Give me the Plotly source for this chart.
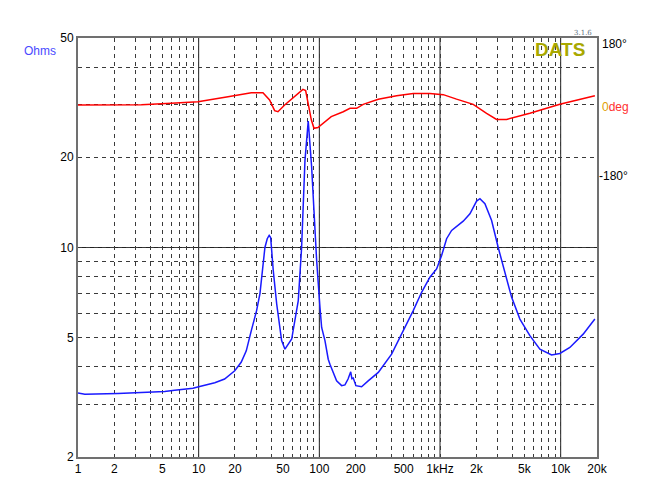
import plotly.graph_objects as go
import numpy as np

# ---------------- data ----------------
imp_freq = [1, 1.14, 2.14, 3.14, 5.23, 6.33, 8.97, 10, 13.6, 16.4, 19.9, 22.5, 24.8, 27.3,
            30.2, 32.2, 33.9, 35.4, 37.0, 38.4, 39.5, 41.5, 44.3, 48.7, 51.9, 59.0, 66.9, 71.3,
            76.0, 80.9, 86.3, 95.0, 101.2, 104.5, 111.3, 118.5, 122.4, 139, 153, 163, 173,
            182, 186, 191, 201, 224,
            254, 308, 397, 481, 600, 704, 825, 937, 1031, 1134, 1248, 1557, 1770, 2010,
            2142, 2356, 2677, 3036, 3450, 3918, 4592, 5556, 6724, 8407, 9843, 11916, 15360,
            19200]
imp_ohms = [3.27, 3.24, 3.26, 3.28, 3.31, 3.34, 3.39, 3.43, 3.54, 3.64, 3.88, 4.14, 4.52, 5.28,
            6.16, 7.02, 8.38, 10.0, 10.7, 10.97, 10.8, 8.38, 6.49, 4.89, 4.58, 4.95, 6.65, 10.0,
            19.5, 26.4, 18.6, 9.05, 6.32, 5.41, 4.89, 4.24, 4.08, 3.59, 3.46, 3.48, 3.64,
            3.85, 3.65, 3.67, 3.46, 3.43,
            3.59, 3.83, 4.41, 5.14, 6.16, 7.09, 7.96, 8.48, 9.40, 10.7, 11.4, 12.24, 12.96, 14.28,
            14.55, 14.0, 12.31, 10.0, 8.17, 6.83, 5.77, 5.08, 4.58, 4.38, 4.43, 4.64, 5.14,
            5.77]

ph_freq = [1, 3.35, 5.93, 9.87, 17.5, 27.3, 34.1, 38.7, 42.6, 45.4, 51.6, 62.4, 73.1, 77.0,
           80.5, 85.8, 90.3, 97.3, 125.5, 142.6, 157.8, 179.4, 203.7, 231, 308, 437, 600,
           825, 1064, 1371, 1884, 2432, 2943, 3563, 5556, 9843, 19200]
ph_deg = [-2.5, -1.6, 1.7, 5.7, 18, 28, 28, 10, -16.5, -19, -2.5, 18, 36, 33,
          1.7, -39, -60, -58, -31, -25, -19, -10.6, -10.6, -0.8, 11.5, 20.5, 26,
          26, 23, 12, -0.8, -23, -38, -38, -23, -0.8, 20.5]

x_tickvals = [1, 2, 5, 10, 20, 50, 100, 200, 500, 1000, 2000, 5000, 10000, 20000]
x_ticktext = ["1", "2", "5", "10", "20", "50", "100", "200", "500", "1kHz", "2k", "5k", "10k", "20k"]
x_minor = [m * d for d in [1, 10, 100, 1000] for m in [3, 4, 6, 7, 8, 9]] + [30000]
x_decades = [10, 100, 1000, 10000]
y_tickvals = [2, 5, 10, 20, 50]
y_ticktext = ["2", "5", "10", "20", "50"]
y_minor = [3, 4, 6, 7, 8, 9, 30, 40]

GRID = "#3a3a3a"
DASH = "4px,4px"
FONT = "Liberation Sans, Arial, sans-serif"

fig = go.Figure()
fig.add_trace(go.Scatter(x=imp_freq, y=imp_ohms, mode="lines",
                         line=dict(color="#1a1aff", width=1.5), yaxis="y", showlegend=False))
fig.add_trace(go.Scatter(x=ph_freq, y=ph_deg, mode="lines",
                         line=dict(color="#ff0000", width=1.5), yaxis="y2", showlegend=False))

shapes = []
for d in x_decades:
    shapes.append(dict(type="line", xref="x", yref="paper", x0=d, x1=d, y0=0, y1=1,
                       line=dict(color="#222222", width=1), layer="between"))
shapes.append(dict(type="line", xref="paper", yref="y", x0=0, x1=1, y0=10, y1=10,
                   line=dict(color="#222222", width=1), layer="between"))

fig.update_layout(
    width=649, height=488,
    margin=dict(l=78, r=52, t=38, b=31),
    paper_bgcolor="white", plot_bgcolor="white",
    font=dict(family=FONT, size=12, color="black"),
    xaxis=dict(type="log", range=[0, np.log10(20000)],
               tickvals=x_tickvals, ticktext=x_ticktext, ticks="",
               showgrid=True, gridcolor=GRID, griddash=DASH, gridwidth=1,
               minor=dict(tickvals=x_minor, showgrid=True, gridcolor=GRID,
                          griddash=DASH, gridwidth=1, ticks=""),
               showline=True, mirror=True, linecolor="#707070", linewidth=2,
               zeroline=False, tickfont=dict(size=12, family=FONT)),
    yaxis=dict(type="log", range=[np.log10(2), np.log10(50)],
               tickvals=y_tickvals, ticktext=y_ticktext, ticks="",
               showgrid=True, gridcolor=GRID, griddash=DASH, gridwidth=1,
               minor=dict(tickvals=y_minor, showgrid=True, gridcolor=GRID,
                          griddash=DASH, gridwidth=1, ticks=""),
               showline=True, mirror=True, linecolor="#707070", linewidth=2,
               zeroline=False, tickfont=dict(size=12, family=FONT)),
    yaxis2=dict(overlaying="y", side="right", range=[-870.3, 162.7],
                showgrid=False, showticklabels=False, zeroline=False, showline=False),
    shapes=shapes,
)

def pax(px):
    return (px - 78) / 519.0

def pay(py):
    return (457 - py) / 419.0

ann = [
    dict(text="Ohms", x=pax(40), y=pay(51), xanchor="center", yanchor="middle",
         font=dict(color="#4a4aff", size=12, family=FONT)),
    dict(text="<b>DATS</b>", x=pax(560), y=pay(49), xanchor="center", yanchor="middle",
         font=dict(color="#a8a800", size=19, family=FONT)),
    dict(text="3.1.6", x=pax(583), y=pay(33), xanchor="center", yanchor="middle",
         font=dict(color="#607080", size=7, family="DejaVu Serif")),
    dict(text="180°", x=pax(600), y=pay(44), xanchor="left", yanchor="middle",
         font=dict(color="black", size=12, family=FONT)),
    dict(text="<span style='color:#e0a000'>0</span><span style='color:#ff3030'>deg</span>",
         x=pax(600), y=pay(106.5), xanchor="left", yanchor="middle",
         font=dict(size=12, family=FONT)),
    dict(text="-180°", x=pax(597), y=pay(176), xanchor="left", yanchor="middle",
         font=dict(color="black", size=12, family=FONT)),
]
for a in ann:
    a.update(xref="paper", yref="paper", showarrow=False)
fig.update_layout(annotations=ann)

fig.write_html("out.html")
